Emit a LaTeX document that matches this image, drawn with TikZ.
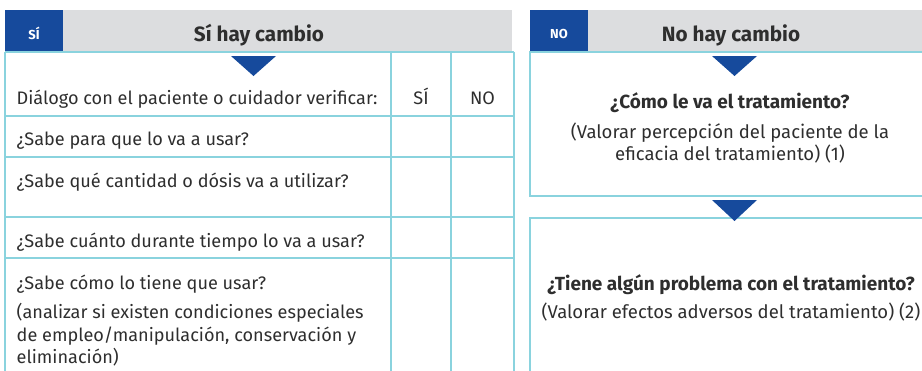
\documentclass[tikz,border=0pt]{standalone}
\usepackage{fontspec}
\setmainfont{Fira Sans}
\definecolor{hblue}{HTML}{164A9C}
\definecolor{hgray}{HTML}{DCDDDF}
\definecolor{tline}{HTML}{8AD3DE}
\definecolor{txt}{HTML}{2E2E2E}
\tikzset{
  grid/.style={draw=tline, line width=1.3pt},
  tri/.style={fill=hblue, draw=none},
  celltext/.style={anchor=base west, inner sep=0pt, text=txt, font=\fontsize{18.1}{20}\selectfont},
  coltext/.style={anchor=base, inner sep=0pt, text=txt, font=\fontsize{18.1}{20}\selectfont},
  headtext/.style={anchor=base, inner sep=0pt, text=txt, font=\fontsize{20.7}{24}\selectfont\bfseries},
  tagtext/.style={anchor=base, inner sep=0pt, text=white, font=\fontsize{13}{15}\selectfont\bfseries},
  bodytext/.style={anchor=base, inner sep=0pt, text=txt, font=\fontsize{18.5}{20}\selectfont},
  boldtext/.style={anchor=base, inner sep=0pt, text=txt, font=\fontsize{19}{22}\selectfont\bfseries},
}
\begin{document}
\begin{tikzpicture}[x=1pt,y=-1pt]
\useasboundingbox (0,0) rectangle (922,370);
% headers
\fill[hgray] (5,10) rectangle (512,51);
\fill[hblue] (5,10) rectangle (63,51);
\fill[hgray] (530,10) rectangle (940,51);
\fill[hblue] (530,10) rectangle (588,51);
\node[tagtext] (tagsi) at (34,39) {SÍ};
\node[headtext] (headsi) at (259,41.5) {Sí hay cambio};
\node[tagtext] (tagno) at (559,38.5) {NO};
\node[headtext] (headno) at (731,41.5) {No hay cambio};
% left table
\draw[grid] (5,52) -- (514,52);
\draw[grid] (5,116) -- (514,116);
\draw[grid] (5,157) -- (514,157);
\draw[grid] (5,217) -- (514,217);
\draw[grid] (5,258) -- (514,258);
\draw[grid] (5,52) -- (5,375);
\draw[grid] (391,52) -- (391,375);
\draw[grid] (451,52) -- (451,375);
\draw[grid] (514,52) -- (514,375);
\fill[tri] (231,56) -- (276,56) -- (253.5,76) -- cycle;
\node[celltext] (r1) at (16.5,104) {Diálogo con el paciente o cuidador verificar:};
\node[coltext] (csi) at (421,104) {SÍ};
\node[coltext] (cno) at (482.5,104) {NO};
\node[celltext] (r2) at (16.5,145) {¿Sabe para que lo va a usar?};
\node[celltext] (r3) at (16.5,187) {¿Sabe qué cantidad o dósis va a utilizar?};
\node[celltext] (r4) at (16.5,247) {¿Sabe cuánto durante tiempo lo va a usar?};
\node[celltext] (r5) at (16.5,289) {¿Sabe cómo lo tiene que usar?};
\node[celltext] (r5a) at (16.5,318) {(analizar si existen condiciones especiales};
\node[celltext] (r5b) at (16.5,341) {de empleo/manipulación, conservación y};
\node[celltext] (r5c) at (16.5,363) {eliminación)};
% right boxes
\draw[grid] (940,52) -- (530,52) -- (530,196) -- (940,196);
\draw[grid] (940,218) -- (530,218) -- (530,375);
\fill[tri] (712,56) -- (757,56) -- (734.5,76) -- cycle;
\fill[tri] (712,200) -- (757,200) -- (734.5,221) -- cycle;
\node[boldtext] (q1) at (730,108) {¿Cómo le va el tratamiento?};
\node[bodytext] (q1a) at (730,138) {(Valorar percepción del paciente de la};
\node[bodytext] (q1b) at (730,160.5) {eficacia del tratamiento) (1)};
\node[boldtext] (q2) at (731,290) {¿Tiene algún problema con el tratamiento?};
\node[bodytext] (q2a) at (731,318) {(Valorar efectos adversos del tratamiento) (2)};
\end{tikzpicture}
\end{document}
